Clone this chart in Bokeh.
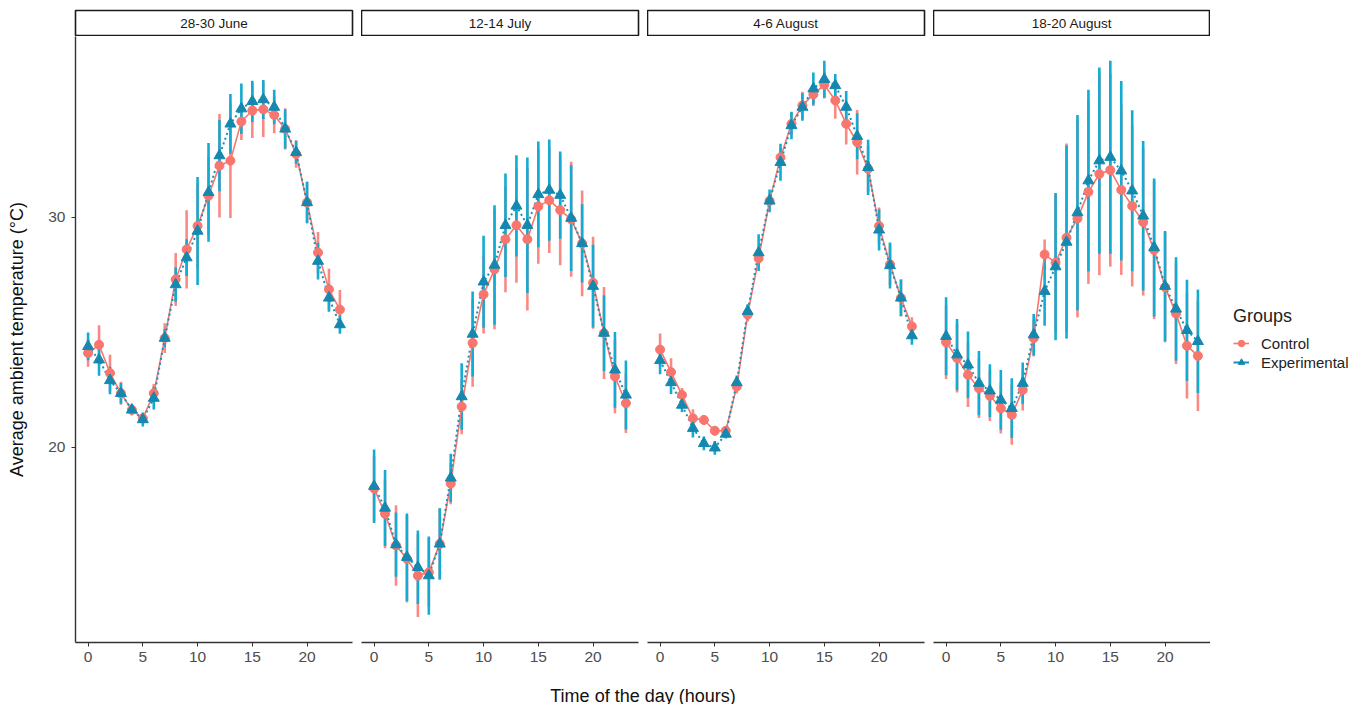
from bokeh.plotting import figure
from bokeh.models import Range1d, FixedTicker, Legend, LegendItem, ColumnDataSource
from bokeh.layouts import row, column
from bokeh.core.properties import value
from bokeh.embed import file_html
from bokeh.resources import INLINE

hours = list(range(24))
panel_titles = ["28-30 June", "12-14 July", "4-6 August", "18-20 August"]
x_ticks = [0, 5, 10, 15, 20]
y_ticks = [20, 30]
group_names = ["Control", "Experimental"]

# 28-30 June
ctrl_jun = [24.09, 24.45, 23.22, 22.34, 21.62, 21.25, 22.34, 24.74, 27.29, 28.6, 29.62, 30.93,
            32.24, 32.46, 34.16, 34.64, 34.69, 34.45, 33.84, 32.75, 30.64, 28.46, 26.86, 25.98]
ctrl_jun_sd = [0.6, 0.85, 0.8, 0.5, 0.25, 0.2, 0.4, 0.65, 1.15, 1.7, 1.85, 1.7,
               2.25, 2.5, 0.8, 1.2, 1.2, 0.8, 0.9, 0.6, 0.9, 0.9, 0.9, 0.85]
exp_jun = [24.38, 23.8, 22.9, 22.34, 21.62, 21.2, 22.13, 24.74, 27.07, 28.24, 29.4, 31.08,
           32.68, 34.06, 34.72, 35.04, 35.12, 34.79, 33.84, 32.82, 30.64, 28.09, 26.49, 25.33]
exp_jun_sd = [0.6, 0.7, 0.6, 0.45, 0.2, 0.3, 0.5, 0.4, 0.75, 0.8, 2.35, 2.15,
              1.55, 1.3, 1.1, 0.9, 0.85, 0.75, 0.85, 0.5, 0.9, 0.8, 0.6, 0.4]

# 12-14 July
ctrl_jul = [18.2, 17.1, 15.72, 15.14, 14.41, 14.55, 15.79, 18.41, 21.76, 24.53, 26.64, 27.73,
            29.04, 29.65, 29.04, 30.47, 30.74, 30.31, 29.91, 28.86, 27.15, 24.96, 23.07, 21.91]
ctrl_jul_sd = [1.4, 1.5, 1.75, 1.9, 1.8, 1.5, 1.55, 0.9, 1.2, 1.9, 1.7, 2.6,
               2.3, 2.5, 3.1, 2.5, 2.3, 2.4, 2.5, 2.3, 2.0, 2.0, 1.6, 1.3]
exp_jul = [18.3, 17.35, 15.76, 15.21, 14.77, 14.41, 15.79, 18.66, 22.2, 24.92, 27.19, 27.92,
           29.65, 30.49, 29.65, 30.99, 31.18, 30.96, 29.96, 28.86, 27.0, 24.96, 23.36, 22.27]
exp_jul_sd = [1.6, 1.65, 1.4, 1.9, 1.6, 1.7, 1.55, 1.05, 1.45, 1.85, 2.0, 2.6,
              2.25, 2.2, 2.95, 2.3, 2.2, 1.9, 2.3, 1.7, 1.8, 1.65, 1.65, 1.5]

# 4-6 August
ctrl_aug1 = [24.24, 23.26, 22.27, 21.25, 21.18, 20.71, 20.71, 22.63, 25.76, 28.21, 30.71, 32.6,
             34.06, 34.86, 35.34, 35.76, 35.08, 34.06, 33.26, 32.1, 29.62, 27.95, 26.49, 25.25]
ctrl_aug1_sd = [0.7, 0.6, 0.3, 0.4, 0.2, 0.2, 0.2, 0.3, 0.3, 0.4, 0.3, 0.4,
                0.5, 0.6, 0.5, 0.6, 0.8, 0.9, 1.4, 1.0, 0.8, 0.9, 0.8, 0.4]
exp_aug1 = [23.77, 22.81, 21.83, 20.82, 20.16, 19.97, 20.57, 22.81, 25.91, 28.46, 30.71, 32.39,
            33.99, 34.79, 35.59, 36.0, 35.73, 34.79, 33.52, 32.17, 29.45, 27.9, 26.49, 24.85]
exp_aug1_sd = [0.6, 0.5, 0.3, 0.4, 0.3, 0.3, 0.2, 0.3, 0.3, 0.8, 0.5, 0.8,
               0.6, 0.6, 0.7, 0.8, 0.5, 0.7, 1.0, 1.2, 0.9, 1.0, 0.8, 0.4]

# 18-20 August
ctrl_aug2 = [24.56, 23.87, 23.14, 22.56, 22.23, 21.69, 21.4, 22.49, 24.74, 28.38, 28.02, 29.11,
             29.94, 31.1, 31.88, 32.05, 31.19, 30.49, 29.79, 28.57, 26.96, 25.81, 24.41, 23.97]
ctrl_aug2_sd = [1.6, 1.5, 1.4, 1.3, 1.1, 1.1, 1.3, 0.9, 0.8, 0.65, 3.0, 4.1,
                4.3, 4.0, 4.4, 4.2, 3.7, 3.5, 3.2, 3.0, 2.4, 2.2, 2.3, 2.4]
exp_aug2 = [24.82, 24.02, 23.58, 22.78, 22.45, 22.05, 21.69, 22.78, 24.89, 26.78, 27.85, 28.92,
            30.2, 31.59, 32.46, 32.61, 32.02, 31.15, 30.06, 28.68, 27.0, 26.01, 25.08, 24.6]
exp_aug2_sd = [1.7, 1.55, 1.45, 1.4, 1.15, 1.3, 1.3, 0.9, 0.9, 1.5, 3.2, 4.2,
               4.25, 3.95, 4.05, 4.2, 3.9, 3.5, 3.25, 3.0, 2.4, 2.25, 2.2, 2.25]

panels = [
    (ctrl_jun, ctrl_jun_sd, exp_jun, exp_jun_sd),
    (ctrl_jul, ctrl_jul_sd, exp_jul, exp_jul_sd),
    (ctrl_aug1, ctrl_aug1_sd, exp_aug1, exp_aug1_sd),
    (ctrl_aug2, ctrl_aug2_sd, exp_aug2, exp_aug2_sd),
]

FONT = "Liberation Sans"
RED = "#F8766D"
BLUE_BAR = "#12ABD3"
BLUE_PT = "#1488AE"
BLUE_LINE = "#1293BC"
AXIS_COL = "#333333"
TICK_LABEL_COL = "#4D4D4D"

FRAME_W = 277
GAP = 9
LEFT = 75
TOP_H = 36 + 606 + 32

y_range = Range1d(11.5, 37.86)

columns = []
for i, (cm, cs, em, es) in enumerate(panels):
    left = LEFT if i == 0 else 0
    right = GAP if i < 3 else 0

    # strip header
    s = figure(frame_width=FRAME_W, frame_height=26, x_range=Range1d(0, 1), y_range=Range1d(0, 1),
               output_backend="svg", toolbar_location=None, title=None,
               x_axis_location=None, y_axis_location=None,
               min_border_left=left, min_border_right=right, min_border_top=10, min_border_bottom=0,
               outline_line_color="#1a1a1a", outline_line_width=1.6,
               background_fill_color="white", border_fill_color="white")
    s.xgrid.visible = False
    s.ygrid.visible = False
    s.text(x=[0.5], y=[0.5], text=[panel_titles[i]], text_align="center", text_baseline="middle",
           text_font=value(FONT), text_font_size="13.5px", text_color="#1A1A1A")

    p = figure(frame_width=FRAME_W, frame_height=606, x_range=Range1d(-1.15, 24.15), y_range=y_range,
               output_backend="svg", toolbar_location=None, title=None,
               y_axis_location="left" if i == 0 else None,
               min_border_left=left, min_border_right=right, min_border_top=0, min_border_bottom=32,
               outline_line_color=None, background_fill_color="white", border_fill_color="white")
    p.xgrid.visible = False
    p.ygrid.visible = False

    xa = p.xaxis[0]
    xa.ticker = FixedTicker(ticks=x_ticks)
    xa.minor_tick_line_color = None
    xa.major_tick_in = 0
    xa.major_tick_out = 4
    xa.major_tick_line_color = AXIS_COL
    xa.axis_line_color = AXIS_COL
    xa.axis_line_width = 1.4
    xa.major_label_text_font = FONT
    xa.major_label_text_font_size = "15.5px"
    xa.major_label_text_color = TICK_LABEL_COL
    xa.major_label_standoff = 5

    if i == 0:
        ya = p.yaxis[0]
        ya.ticker = FixedTicker(ticks=y_ticks)
        ya.minor_tick_line_color = None
        ya.major_tick_in = 0
        ya.major_tick_out = 4
        ya.major_tick_line_color = AXIS_COL
        ya.axis_line_color = AXIS_COL
        ya.axis_line_width = 1.4
        ya.major_label_text_font = FONT
        ya.major_label_text_font_size = "15.5px"
        ya.major_label_text_color = TICK_LABEL_COL
        ya.major_label_standoff = 6
        ya.axis_label = "Average ambient temperature (°C)"
        ya.axis_label_text_font = FONT
        ya.axis_label_text_font_size = "18px"
        ya.axis_label_text_font_style = "normal"
        ya.axis_label_text_color = "#111111"
        ya.axis_label_standoff = 18

    csrc = ColumnDataSource(dict(x=hours, y=cm,
                                 lo=[m - d for m, d in zip(cm, cs)],
                                 hi=[m + d for m, d in zip(cm, cs)]))
    esrc = ColumnDataSource(dict(x=hours, y=em,
                                 lo=[m - d for m, d in zip(em, es)],
                                 hi=[m + d for m, d in zip(em, es)]))

    p.segment(x0="x", y0="lo", x1="x", y1="hi", source=csrc, line_color=RED, line_alpha=0.85, line_width=2.6)
    p.segment(x0="x", y0="lo", x1="x", y1="hi", source=esrc, line_color=BLUE_BAR, line_width=2.6)
    p.line("x", "y", source=csrc, line_color=RED, line_width=1.6)
    p.line("x", "y", source=esrc, line_color=BLUE_LINE, line_width=2, line_dash="2 3")
    p.scatter("x", "y", source=csrc, marker="circle", size=9, fill_color=RED, line_color=RED)
    p.scatter("x", "y", source=esrc, marker="triangle", size=11, fill_color=BLUE_PT, line_color=BLUE_PT)

    columns.append(column(s, p))

# legend panel: same series drawn in a view whose range keeps them out of sight,
# so that only the legend glyphs show
lf = figure(width=1370 - (LEFT + 4 * FRAME_W + 3 * GAP), height=TOP_H,
            x_range=Range1d(100, 101), y_range=Range1d(100, 101),
            output_backend="svg", toolbar_location=None, title=None,
            x_axis_location=None, y_axis_location=None, min_border=0,
            outline_line_color=None, background_fill_color="white", border_fill_color="white")
lf.xgrid.visible = False
lf.ygrid.visible = False
lc = lf.line(hours, ctrl_aug2, line_color=RED, line_width=1.6)
lcp = lf.scatter(hours, ctrl_aug2, marker="circle", size=9, fill_color=RED, line_color=RED)
le = lf.line(hours, exp_aug2, line_color=BLUE_LINE, line_width=2)
lep = lf.scatter(hours, exp_aug2, marker="triangle", size=11, fill_color=BLUE_PT, line_color=BLUE_PT)

legend = Legend(items=[LegendItem(label=group_names[0], renderers=[lc, lcp]),
                       LegendItem(label=group_names[1], renderers=[le, lep])],
                title="Groups", location=(23, TOP_H - 371))
legend.title_text_font = FONT
legend.title_text_font_size = "18px"
legend.title_text_font_style = "normal"
legend.title_text_color = "#222222"
legend.title_standoff = 7
legend.label_text_font = FONT
legend.label_text_font_size = "15px"
legend.label_text_color = "#222222"
legend.glyph_width = 16
legend.glyph_height = 18
legend.label_standoff = 12
legend.spacing = 1
legend.padding = 8
legend.margin = 0
legend.border_line_color = None
legend.background_fill_alpha = 0
lf.add_layout(legend)

top = row(*columns, lf)

lab = figure(width=1370, height=30, x_range=Range1d(0, 1370), y_range=Range1d(0, 30),
             output_backend="svg", toolbar_location=None, title=None,
             x_axis_location=None, y_axis_location=None,
             min_border=0, outline_line_color=None,
             background_fill_color="white", border_fill_color="white")
lab.xgrid.visible = False
lab.ygrid.visible = False
lab.text(x=[642.5], y=[9], text=["Time of the day (hours)"], text_align="center",
         text_baseline="alphabetic", text_font=value(FONT), text_font_size="18px", text_color="#111111")

layout = column(top, lab)

open("out.html", "w").write(file_html(layout, INLINE))
